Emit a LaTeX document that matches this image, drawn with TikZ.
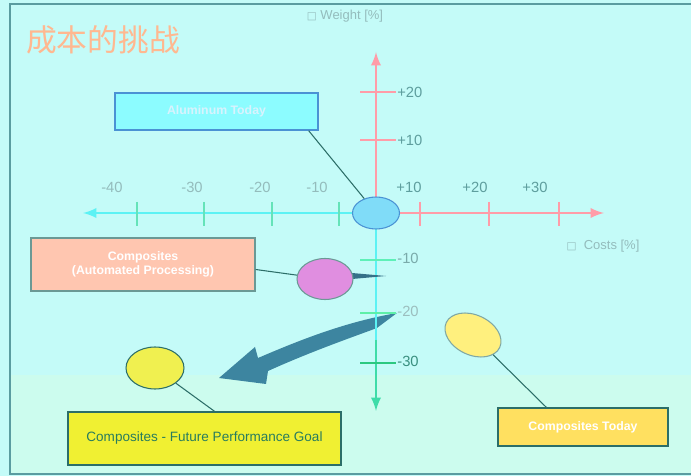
\documentclass[tikz,border=0pt]{standalone}
\usepackage{fontspec}
\setmainfont{Liberation Sans}
\newfontfamily\cjk{Noto Sans CJK SC}
\newfontfamily\symb{DejaVu Sans}
\usepackage{xcolor}
\usepackage{tikz}
\usetikzlibrary{shapes.geometric,calc}

\definecolor{bgcyan}{HTML}{C4FBF8}
\definecolor{bggreen}{HTML}{CCFCEE}
\definecolor{framecol}{HTML}{5A9CA0}
\definecolor{pinkaxis}{HTML}{FF9CA8}
\definecolor{cyanaxis}{HTML}{5CF2F4}
\definecolor{greenaxis}{HTML}{3EDCA8}
\definecolor{labgray}{HTML}{94BCBC}
\definecolor{labteal}{HTML}{5E9E9E}
\definecolor{arrowblue}{HTML}{3D85A0}
\definecolor{lineteal}{HTML}{2C6E68}
\definecolor{titlecol}{HTML}{FFB890}
\definecolor{alufill}{HTML}{8CFCFF}
\definecolor{aluline}{HTML}{4A92D4}
\definecolor{alublob}{HTML}{80DCF8}
\definecolor{autofill}{HTML}{FFC6B0}
\definecolor{autoblob}{HTML}{E08EE0}
\definecolor{goalfill}{HTML}{F0F032}
\definecolor{goalblob}{HTML}{F0F050}
\definecolor{todayfill}{HTML}{FFE060}
\definecolor{todayblob}{HTML}{FFF07E}

\begin{document}
\begin{tikzpicture}[
		x=0.02cm, y=-0.02cm,
		blob/.style={ellipse, draw, line width=0.6pt, inner sep=0pt},
		panel/.style={rectangle, draw, line width=0.8pt, inner sep=0pt, align=center,
			font=\fontsize{7}{8}\selectfont\bfseries, text=white},
		ticklab/.style={font=\fontsize{8.4}{10}\selectfont, text=labteal, inner sep=0pt},
		tickline/.style={line width=1.4pt}
		]
		\useasboundingbox (0,0) rectangle (691,476);
		\fill[bgcyan] (0,0) rectangle (691,476);
		\fill[bggreen] (10,375) rectangle (691,474);
		\draw[framecol, line width=1.2pt] (691,4) -- (10,4) -- (10,474) -- (691,474);

		% title and axis names
		\node[text=titlecol, font=\fontsize{17.5}{20}\selectfont\cjk, inner sep=0pt] (title) at (103,40) {成本的挑战};
		\node[ticklab, text=labgray, font=\fontsize{7.4}{9}\selectfont] (wlab) at (345,16) {{\symb\fontsize{6}{7}\selectfont □}\ Weight [\%]};
		\node[ticklab, text=labgray, font=\fontsize{7.4}{9}\selectfont] (clab) at (603,246) {{\symb\fontsize{6}{7}\selectfont □}\ \ Costs [\%]};

		% big arrow, behind the axes
		\fill[arrowblue] (397,313) .. controls (345,322) and (300,340) .. (258,358) -- (255,347)
			-- (219,378) -- (266,384) -- (268,371) .. controls (310,352) and (350,338) .. (377,328) -- cycle;

		% axes
		\coordinate (o) at (376,213);
		\coordinate (xl) at (83,213);
		\coordinate (xr) at (604,213);
		\coordinate (yt) at (376,52);
		\coordinate (ym) at (376,340);
		\coordinate (yb) at (376,411);
		\draw[cyanaxis, line width=1.6pt, -latex] (o) -- (xl);
		\draw[pinkaxis, line width=1.6pt, -latex] (o) -- (xr);
		\draw[pinkaxis, line width=1.6pt, -latex] (o) -- (yt);
		\draw[cyanaxis, line width=1.6pt] (o) -- (ym);
		\draw[greenaxis, line width=1.6pt, -latex] (ym) -- (yb);

		\foreach \tx/\lx/\t [count=\i] in {137/112/-40, 204/192/-30, 272/260/-20, 339/317/-10}{
			\draw[greenaxis!80!white, tickline] (\tx,202) -- (\tx,226);
			\node[ticklab, text=labgray] (xneg\i) at (\lx,187) {\t};
		}
		\foreach \tx/\lx/\t [count=\i] in {420/409/+10, 489/475/+20, 559/535/+30}{
			\draw[pinkaxis, tickline] (\tx,202) -- (\tx,226);
			\node[ticklab] (xpos\i) at (\lx,187) {\t};
		}
		\foreach \ty/\t [count=\i] in {92/+20, 140/+10}{
			\draw[pinkaxis, tickline] (360,\ty) -- (396,\ty);
			\node[ticklab, anchor=west] (ypos\i) at (397,\ty) {\t};
		}
		\foreach \ty/\t/\tc/\lc [count=\i] in {260/-10/5EF0B8/7AAAAA, 313/-20/5EF0A8/9CBEBE, 363/-30/2CC880/3A9080}{
			\definecolor{tc}{HTML}{\tc}
			\definecolor{lc}{HTML}{\lc}
			\draw[tc, tickline] (360,\ty) -- (396,\ty);
			\node[ticklab, anchor=west, text=lc] (yneg\i) at (397,\ty-2) {\t};
		}

		% small stub right of the magenta blob
		\fill[arrowblue!85!black] (352,273) -- (386,276) -- (352,279) -- cycle;

		% blobs
		\node[blob, fill=alublob, draw=aluline, minimum width=0.94cm, minimum height=0.64cm] (alu) at (o) {};
		\node[blob, fill=autoblob, draw=lineteal!70!white, minimum width=1.12cm, minimum height=0.82cm] (auto) at (325,279) {};
		\node[blob, fill=goalblob, draw=lineteal, minimum width=1.16cm, minimum height=0.84cm] (goal) at (155,368) {};
		\node[blob, fill=todayblob, draw=lineteal!60!white, minimum width=1.18cm, minimum height=0.8cm, rotate=-25] (today) at (473,335) {};

		% boxes
		\node[panel, fill=alufill, draw=aluline, text=white!85!cyan, minimum width=4.06cm, minimum height=0.74cm] (alubox) at (216.5,111.5) {Aluminum Today};
		\node[panel, fill=autofill, draw=lineteal!70!white, minimum width=4.48cm, minimum height=1.06cm] (autobox) at (143,264.5) {Composites\\(Automated Processing)};
		\node[panel, fill=goalfill, draw=lineteal, text=lineteal!90!green, font=\fontsize{7.7}{9}\selectfont, minimum width=5.46cm, minimum height=1.06cm] (goalbox) at (204.5,438.5) {Composites - Future Performance Goal};
		\node[panel, fill=todayfill, draw=lineteal, minimum width=3.4cm, minimum height=0.76cm] (todaybox) at (583,427) {Composites Today};

		% connectors
		\draw[lineteal, line width=0.6pt] ($(alubox.south east)+(-10,0)$) -- (alu);
		\draw[lineteal, line width=0.6pt] ($(autobox.east)+(0,5)$) -- (auto);
		\draw[lineteal, line width=0.6pt] (goal) -- ($(goalbox.north)+(10,0)$);
		\draw[lineteal, line width=0.6pt] (today) -- ($(todaybox.north west)+(49,0)$);
	\end{tikzpicture}
\end{document}
